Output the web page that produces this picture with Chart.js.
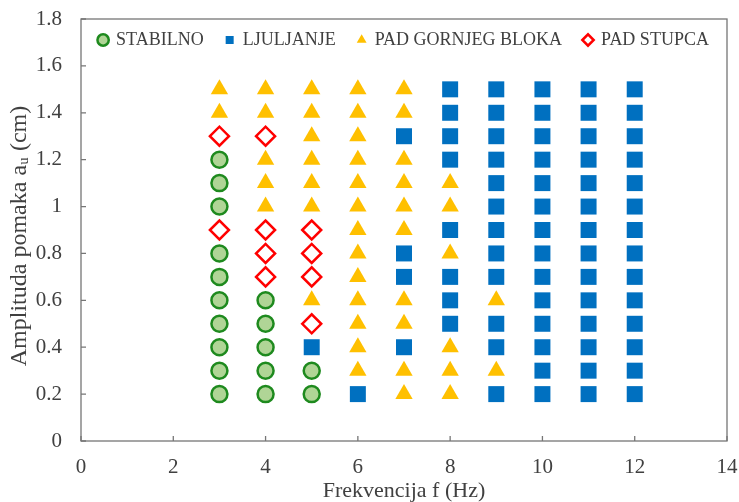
<!DOCTYPE html>
<html>
<head>
<meta charset="utf-8">
<script src="https://cdn.jsdelivr.net/npm/chart.js@4.4.1/dist/chart.umd.min.js"></script>
<style>
  body { margin: 0; background: #fff; }
  #wrap { width: 739px; height: 502px; }
</style>
</head>
<body>
<div id="wrap"><canvas id="modeChart"></canvas></div>
<script>
// frequencies tested (Hz) and amplitudes (cm), bottom to top
const frequencies = [3, 4, 5, 6, 7, 8, 9, 10, 11, 12];
const amplitudes = [0.2, 0.3, 0.4, 0.5, 0.6, 0.7, 0.8, 0.9, 1.0, 1.1, 1.2, 1.3, 1.4, 1.5];

const categories = ["STABILNO", "LJULJANJE", "PAD GORNJEG BLOKA", "PAD STUPCA"];
const categoryCodes = ["O", "L", "G", "S"];

// observed outcome per frequency, one letter per amplitude (0.2 -> 1.5)
const outcomes = [
    "OOOOOOOSOOOSGG", // 3 Hz
    "OOOOOSSSGGGSGG", // 4 Hz
    "OOLSGSSSGGGGGG", // 5 Hz
    "LGGGGGGGGGGGGG", // 6 Hz
    "GGLGGLLGGGGLGG", // 7 Hz
    "GGGLLLGLGGLLLL", // 8 Hz
    "LGLLGLLLLLLLLL", // 9 Hz
    "LLLLLLLLLLLLLL", // 10 Hz
    "LLLLLLLLLLLLLL", // 11 Hz
    "LLLLLLLLLLLLLL"  // 12 Hz
];

const xTicks = [0, 14, 2];
const yTicks = [0, 1.8, 0.2];

const textColor = "#404040";
const lineColor = "#767676";
const serif = "'Liberation Serif', 'Times New Roman', serif";

function pointsFor(code) {
    const pts = [];
    frequencies.forEach((f, i) => {
        amplitudes.forEach((a, j) => {
            if (outcomes[i][j] === code) pts.push({ x: f, y: a });
        });
    });
    return pts;
}

const styles = [
    { pointStyle: "circle", pointRadius: 8, backgroundColor: "#b0d596", borderColor: "#1e8a1e", borderWidth: 2.5 },
    { pointStyle: "rect", pointRadius: 11.3, backgroundColor: "#0070c0", borderColor: "#0070c0", borderWidth: 0 },
    { pointStyle: "triangle", pointRadius: 10, backgroundColor: "#ffc000", borderColor: "#ffc000", borderWidth: 0 },
    { pointStyle: "rectRot", pointRadius: 9.5, backgroundColor: "#ffffff", borderColor: "#ff0000", borderWidth: 2.5 }
];

const datasets = categories.map((name, k) => Object.assign({
    label: name,
    data: pointsFor(categoryCodes[k]),
    pointHoverRadius: styles[k].pointRadius
}, styles[k]));

// box round the plot and short inside tick marks
const framePlugin = {
    id: "frame",
    beforeDatasetsDraw(chart) {
        const { ctx, chartArea: ca, scales } = chart;
        ctx.save();
        ctx.strokeStyle = lineColor;
        ctx.lineWidth = 1.3;
        ctx.strokeRect(ca.left, ca.top, ca.right - ca.left, ca.bottom - ca.top);
        ctx.beginPath();
        scales.x.ticks.forEach(t => {
            const px = scales.x.getPixelForValue(t.value);
            ctx.moveTo(px, ca.bottom);
            ctx.lineTo(px, ca.bottom - 5);
        });
        scales.y.ticks.forEach(t => {
            const py = scales.y.getPixelForValue(t.value);
            ctx.moveTo(ca.left, py);
            ctx.lineTo(ca.left + 5, py);
        });
        ctx.stroke();
        ctx.restore();
    }
};

// legend sits inside the plot box, near its top, centred on the plot
const legendInside = {
    id: "legendInside",
    afterLayout(chart) {
        const lg = chart.legend;
        const ca = chart.chartArea;
        lg.left = ca.left - 100;
        lg.right = ca.right + 100;
        lg.top = 9;
        lg.height = 45;
        lg.bottom = lg.top + lg.height;
    }
};

new Chart(document.getElementById("modeChart"), {
    type: "scatter",
    data: { datasets: datasets },
    options: {
        responsive: true,
        maintainAspectRatio: false,
        animation: false,
        layout: { padding: { top: 18, right: 11, left: 0, bottom: 0 } },
        plugins: {
            tooltip: { enabled: false },
            legend: {
                position: "top",
                align: "center",
                maxHeight: 1,
                labels: {
                    usePointStyle: true,
                    boxWidth: 8,
                    boxHeight: 8,
                    padding: 22,
                    color: textColor,
                    font: { family: serif, size: 18 }
                }
            }
        },
        scales: {
            x: {
                type: "linear",
                min: xTicks[0],
                max: xTicks[1],
                ticks: {
                    stepSize: xTicks[2],
                    padding: 0,
                    color: textColor,
                    font: { family: serif, size: 21 }
                },
                grid: { display: false, drawTicks: true, tickLength: 14 },
                border: { display: false },
                title: {
                    display: true,
                    text: "Frekvencija f (Hz)",
                    color: textColor,
                    font: { family: serif, size: 22 },
                    padding: { top: 0, bottom: -2 }
                },
                afterFit(scale) { scale.height = 61; }
            },
            y: {
                type: "linear",
                min: yTicks[0],
                max: yTicks[1],
                ticks: {
                    stepSize: yTicks[2],
                    padding: 0,
                    color: textColor,
                    font: { family: serif, size: 21 },
                    callback: v => String(+v.toFixed(1))
                },
                grid: { display: false, drawTicks: true, tickLength: 19 },
                border: { display: false },
                title: {
                    display: true,
                    // trailing en space nudges the centred title slightly down
                    text: "Amplituda pomaka a\u1D64 (cm)\u2002",
                    color: textColor,
                    font: { family: serif, size: 24 },
                    padding: { top: 5, bottom: 0 }
                },
                afterFit(scale) { scale.width = 81; }
            }
        }
    },
    plugins: [framePlugin, legendInside]
});
</script>
</body>
</html>
